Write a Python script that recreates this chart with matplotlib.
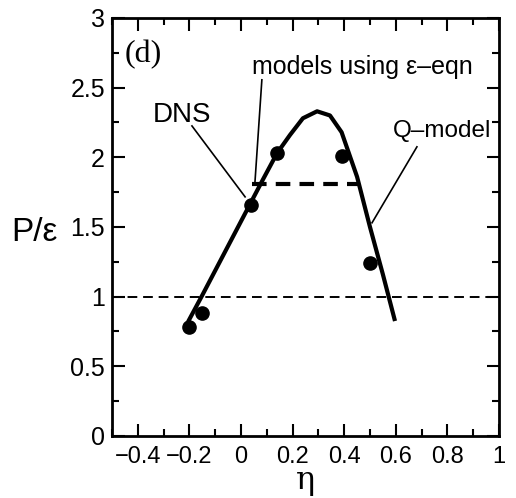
import matplotlib
matplotlib.use("Agg")
import matplotlib.pyplot as plt
from matplotlib.ticker import MultipleLocator

plt.rcParams['font.family'] = ['Liberation Sans', 'DejaVu Sans']

# DNS points
dns_eta = [-0.2, -0.15, 0.04, 0.14, 0.39, 0.5]
dns_p = [0.78, 0.88, 1.66, 2.03, 2.01, 1.24]

# Q-model curve
q_eta = [-0.205, -0.15, 0.0, 0.085, 0.14, 0.19, 0.24, 0.295, 0.345, 0.39, 0.45, 0.50, 0.55, 0.597]
q_p = [0.82, 1.01, 1.54, 1.84, 2.03, 2.16, 2.28, 2.33, 2.30, 2.18, 1.86, 1.50, 1.16, 0.825]

# models using eps-eqn
eps_eta = [0.043, 0.46]
eps_p = [1.81, 1.81]

ref_level = 1.0

fig = plt.figure(figsize=(5.16, 4.98), dpi=100)
ax = fig.add_axes([0.217, 0.1245, 0.75, 0.8395])

ax.axhline(ref_level, color='black', lw=1.4, dashes=(5, 3))
ax.plot(q_eta, q_p, color='black', lw=3, solid_capstyle='butt', solid_joinstyle='round')
ax.plot(eps_eta, eps_p, color='black', lw=3, dashes=(3.5, 2.2))
ax.plot(dns_eta, dns_p, 'o', color='black', ms=9.5)

ax.set_xlim(-0.5, 1.0)
ax.set_ylim(0, 3)
ax.xaxis.set_minor_locator(MultipleLocator(0.1))
ax.yaxis.set_minor_locator(MultipleLocator(0.25))
ax.set_xticks([-0.4, -0.2, 0, 0.2, 0.4, 0.6, 0.8, 1.0])
ax.set_xticklabels(['\u22120.4', '\u22120.2', '0', '0.2', '0.4', '0.6', '0.8', '1'])
ax.set_yticks([0, 0.5, 1, 1.5, 2, 2.5, 3])
ax.set_yticklabels(['0', '0.5', '1', '1.5', '2', '2.5', '3'])
ax.tick_params(which='both', direction='in', top=True, right=True, width=1.5)
ax.tick_params(which='major', length=9)
ax.tick_params(which='minor', length=5)
ax.tick_params(axis='x', labelsize=17, pad=7)
ax.tick_params(axis='y', labelsize=18, pad=5)
for s in ax.spines.values():
    s.set_linewidth(2)

ax.set_xlabel('\u03b7', fontsize=23, family='DejaVu Serif', labelpad=-2)
ax.text(-0.89, 1.46, 'P/\u03b5', fontsize=24, ha='left', va='center')

ax.text(-0.45, 2.68, '(d)', fontsize=23, family='Liberation Serif')
ax.text(-0.229, 2.25, 'DNS', fontsize=20, ha='center')
ax.plot([-0.19, 0.016], [2.225, 1.716], color='black', lw=1.2)
ax.text(0.043, 2.6, 'models using \u03b5\u2013eqn', fontsize=18)
ax.plot([0.081, 0.054], [2.556, 1.816], color='black', lw=1.2)
ax.text(0.589, 2.146, 'Q\u2013model', fontsize=17.5)
ax.plot([0.682, 0.508], [2.075, 1.53], color='black', lw=1.2)

fig.savefig('out.png', dpi=100)
